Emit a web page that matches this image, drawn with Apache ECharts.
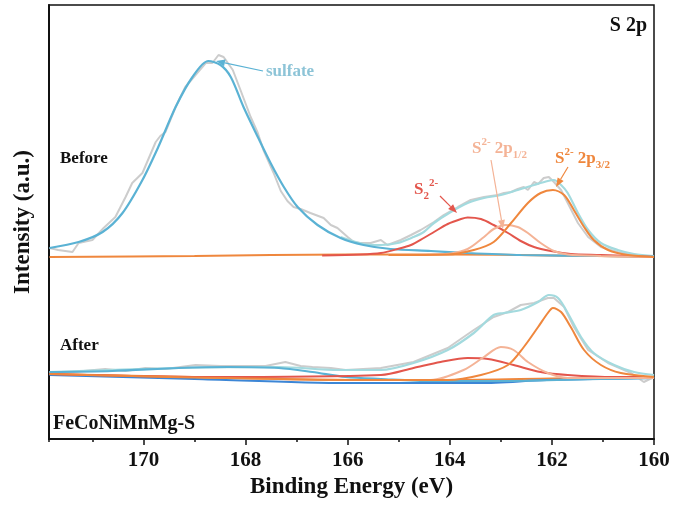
<!DOCTYPE html>
<html>
<head>
<meta charset="utf-8">
<script src="https://cdn.jsdelivr.net/npm/echarts@6/dist/echarts.min.js"></script>
<style>
html,body{margin:0;padding:0;background:#fff;}
#c{width:675px;height:506px;}
</style>
</head>
<body>
<div id="c"></div>
<script>
// ---- data: [binding energy (eV), intensity (a.u.)] ----
var xTicks = [160, 162, 164, 166, 168, 170];

var beforeBaseline = [[171.84,182],[169,183],[166,184.5],[164,184.5],[162,183.5],[160,182]];
var beforeRaw = [[171.84,191],[171.67,189],[171.39,187],[171.27,196],[171.0,199],[170.78,211],[170.55,222],[170.35,242],[170.22,256],[170.02,266],[169.76,297],[169.67,303],[169.57,307],[169.37,332],[169.18,352],[168.98,364],[168.78,376],[168.65,376],[168.53,384],[168.43,382],[168.25,369],[168.1,349],[167.9,322],[167.76,306],[167.65,289],[167.45,266],[167.31,248],[167.18,238],[167.06,232],[166.92,230],[166.73,226],[166.47,221],[166.33,214],[166.2,211],[166.0,202],[165.88,197],[165.75,196],[165.55,196],[165.35,199],[165.22,194],[164.96,199],[164.76,204],[164.57,209],[164.31,217],[164.12,224],[163.84,232],[163.59,239],[163.33,242],[163.06,244],[162.94,246],[162.8,247],[162.67,250],[162.55,252],[162.47,249],[162.35,257],[162.27,255],[162.16,261],[162.06,262],[161.96,257],[161.82,249],[161.69,236],[161.49,216],[161.29,202],[161.04,192],[160.71,187],[160.39,184],[160.0,182]];
var beforeEnvelope = [[166.14,202],[165.69,195],[165.35,194],[165.02,196],[164.71,202],[164.51,207],[164.31,216],[163.98,227],[163.65,236],[163.33,241],[163.0,244],[162.67,249],[162.35,254],[162.08,258],[161.96,259],[161.82,254],[161.69,246],[161.49,226],[161.29,209],[161.04,196],[160.71,189],[160.39,185],[160.0,183]];
var beforeSulfate = [[171.84,191],[171.27,197],[170.8,207],[170.41,226],[170.02,259],[169.71,292],[169.37,332],[169.04,362],[168.73,378],[168.49,374],[168.29,362],[168.04,332],[167.76,302],[167.51,276],[167.25,252],[166.98,232],[166.59,214],[166.14,201],[165.69,194],[165.16,190],[164.37,188],[163.65,186],[162.61,184],[161.04,183],[160.0,182.5]];
var beforeS22 = [[166.5,183.5],[165.75,184.5],[165.35,186],[165.02,190],[164.76,194],[164.51,201],[164.31,207],[164.04,215],[163.78,220],[163.65,221.5],[163.39,220],[163.14,214],[162.86,206],[162.61,198],[162.35,192],[162.02,188],[161.63,185],[161.04,184],[160.0,182]];
var beforeS2p12 = [[165.2,184],[164.37,184.5],[163.98,185.5],[163.65,190],[163.33,202],[163.14,210],[162.9,214],[162.67,212],[162.47,206],[162.22,196],[161.96,188],[161.69,184.5],[161.04,183],[160.0,182]];
var beforeS2p32 = [[165.2,184],[164.04,184.5],[163.53,189],[163.14,197],[162.8,216],[162.47,236],[162.22,246],[161.98,249],[161.76,244],[161.57,229],[161.37,212],[161.18,199],[160.9,189],[160.51,184],[160.0,182]];

var afterBaseline = [[171.84,65],[169,62],[166,59],[164,59],[162,60.5],[160,62]];
var afterBlueBase = [[171.84,64],[169,60],[166,56],[164.4,56],[163.4,56],[162.1,59],[160.0,61]];
var afterRaw = [[171.84,67],[171.39,67],[170.75,70],[170.35,68],[169.96,71],[169.57,70],[168.98,74],[168.49,73],[168.0,73],[167.61,73],[167.22,77],[166.92,73],[166.69,72],[166.33,71],[166.04,69],[165.35,71],[164.71,77],[164.04,91],[163.53,109],[163.14,122],[162.86,127],[162.61,134],[162.35,136],[162.08,141],[161.96,141],[161.76,132],[161.57,112],[161.29,89],[160.9,76],[160.45,66],[160.2,57],[160.0,62]];
var afterEnvelope = [[171.84,67],[169.31,71],[167.35,72],[166.18,69],[165.35,69],[164.71,76],[164.04,89],[163.53,106],[163.14,124],[162.94,126],[162.61,129],[162.27,137],[162.06,144],[161.88,141],[161.69,126],[161.43,102],[161.18,86],[160.78,74],[160.39,67],[160.0,64]];
var afterSulfate = [[171.84,67],[170.61,68],[169.31,71],[168.33,72],[167.35,71],[166.69,67],[166.04,62],[165.35,60],[164.37,58],[163.0,58],[161.04,60],[160.0,61]];
var afterS22 = [[171.84,65],[168.8,62],[165.35,64],[164.71,71],[164.18,77],[163.65,81],[163.25,80],[162.75,74],[162.22,67],[161.69,64],[160.78,62],[160.0,62]];
var afterS2p12 = [[165.35,59],[164.37,59],[163.73,69],[163.33,82],[163.0,92],[162.75,89],[162.47,77],[162.08,66],[161.69,61],[160.0,61]];
var afterS2p32 = [[171.84,65],[165.35,59],[164.04,59],[163.39,64],[162.86,74],[162.55,92],[162.27,112],[162.08,126],[161.98,131],[161.82,127],[161.63,112],[161.37,89],[161.04,74],[160.65,66],[160.0,62]];

var chart = echarts.init(document.getElementById('c'), null, {renderer:'canvas'});
var FONT = '"Liberation Serif","Times New Roman",serif';

function ln(name, data, color, width, smooth, z, type){
  return {name:name, type:'line', data:data, xAxisIndex:0, yAxisIndex:0, showSymbol:false, symbol:'none',
    smooth:smooth, z:z, silent:true, animation:false,
    lineStyle:{color:color, width:width, type:type||'solid'}};
}

function arrow(x1,y1,x2,y2,color){
  var a = Math.atan2(y2-y1, x2-x1), L = 9, W = 3.5;
  var bx = x2 - L*Math.cos(a), by = y2 - L*Math.sin(a);
  var px = -Math.sin(a)*W, py = Math.cos(a)*W;
  return [
    {type:'line', shape:{x1:x1,y1:y1,x2:bx,y2:by}, style:{stroke:color, lineWidth:1.2}, z:100},
    {type:'polygon', shape:{points:[[x2,y2],[bx+px,by+py],[bx-px,by-py]]}, style:{fill:color}, z:100}
  ];
}

var C = {grey:'#CCCCCC', env:'#A3DADE', sul:'#5AB2D4', red:'#E3564C', sal:'#F4B396', org:'#EF873D', blue:'#3C86D6'};

var graphics = [];
function txt(text, x, y, size, color, align){
  graphics.push({type:'text', z:100, style:{text:text, x:x, y:y, font:'bold '+size+'px '+FONT, fill:color, textAlign:align||'left', textVerticalAlign:'middle'}});
}
function rich(text, x, y, color, r){
  graphics.push({type:'text', z:100, style:{text:text, x:x, y:y, fill:color, textAlign:'left', textVerticalAlign:'middle', rich:r}});
}
var R = function(color){
  return {
    m:{font:'bold 17px '+FONT, fill:color, lineHeight:24, verticalAlign:'middle'},
    sup:{font:'bold 11px '+FONT, fill:color, lineHeight:10, verticalAlign:'top'},
    sub:{font:'bold 11px '+FONT, fill:color, lineHeight:10, verticalAlign:'bottom'}
  };
};

txt('S 2p', 647, 26, 20, '#111', 'right');
txt('sulfate', 266, 72, 17, '#8DC4D7');
txt('Before', 60, 159, 17, '#111');
txt('After', 60, 346, 17, '#111');
txt('FeCoNiMnMg-S', 53, 424, 20, '#111');
rich('{m|S}{sub|2}{sup|2-}', 414, 190, C.red, R(C.red));
rich('{m|S}{sup|2-}{m| 2p}{sub|1/2}', 472, 149, C.sal, R(C.sal));
rich('{m|S}{sup|2-}{m| 2p}{sub|3/2}', 555, 159, C.org, R(C.org));

graphics = graphics.concat(arrow(263,71,216,61,C.sul));
graphics = graphics.concat(arrow(440,196,457,213,C.red));
graphics = graphics.concat(arrow(491,160,503,229,C.sal));
graphics = graphics.concat(arrow(568,167,556,187,C.org));

var option = {
  animation:false,
  backgroundColor:'#fff',
  grid:{left:49, right:21, top:5, bottom:67, show:true, borderColor:'#111', borderWidth:1.5, backgroundColor:'transparent'},
  xAxis:[{
    type:'value', min:160, max:171.85, interval:2, inverse:true,
    name:'Binding Energy (eV)', nameLocation:'middle', nameGap:36,
    nameTextStyle:{fontFamily:FONT, fontWeight:'bold', fontSize:23, color:'#111'},
    axisLine:{show:true, lineStyle:{color:'#111', width:2}},
    axisTick:{show:true, length:6, lineStyle:{color:'#111', width:1.5}},
    axisLabel:{show:true, margin:11, fontFamily:FONT, fontWeight:'bold', fontSize:21, color:'#111',
      showMaxLabel:false,
      formatter:function(v){ return xTicks.indexOf(v) >= 0 ? String(v) : ''; }},
    splitLine:{show:false}
  },{
    type:'value', min:160, max:171.85, interval:1, inverse:true, position:'bottom',
    axisLine:{show:false}, axisLabel:{show:false}, splitLine:{show:false},
    axisTick:{show:true, length:3, lineStyle:{color:'#111', width:1.5}}
  }],
  yAxis:{
    type:'value', min:0, max:434,
    name:'Intensity (a.u.)', nameLocation:'middle', nameGap:14,
    nameTextStyle:{fontFamily:FONT, fontWeight:'bold', fontSize:23, color:'#111'},
    axisLine:{show:true, lineStyle:{color:'#111', width:2}},
    axisTick:{show:false}, axisLabel:{show:false}, splitLine:{show:false}
  },
  series:[
    ln('before baseline', beforeBaseline, C.org, 2, 0.3, 1),
    ln('before raw', beforeRaw, C.grey, 2, false, 2),
    ln('before envelope', beforeEnvelope, C.env, 2.2, 0.3, 3),
    ln('before sulfate', beforeSulfate, C.sul, 2.2, 0.3, 4),
    ln('before S2 2-', beforeS22, C.red, 2, 0.3, 5),
    ln('before S2- 2p1/2', beforeS2p12, C.sal, 2, 0.3, 5),
    ln('before S2- 2p3/2', beforeS2p32, C.org, 2, 0.3, 6),
    ln('after baseline', afterBaseline, C.org, 2, 0.3, 1),
    ln('after blue baseline', afterBlueBase, C.blue, 2, 0.3, 1),
    ln('after raw', afterRaw, C.grey, 2, false, 2),
    ln('after envelope', afterEnvelope, C.env, 2.2, 0.3, 3),
    ln('after sulfate', afterSulfate, C.sul, 2.2, 0.3, 4),
    ln('after S2 2-', afterS22, C.red, 2, 0.3, 5),
    ln('after S2- 2p1/2', afterS2p12, C.sal, 2, 0.3, 5),
    ln('after S2- 2p3/2', afterS2p32, C.org, 2, 0.3, 6)
  ],
  graphic:graphics
};
chart.setOption(option);
</script>
</body>
</html>
